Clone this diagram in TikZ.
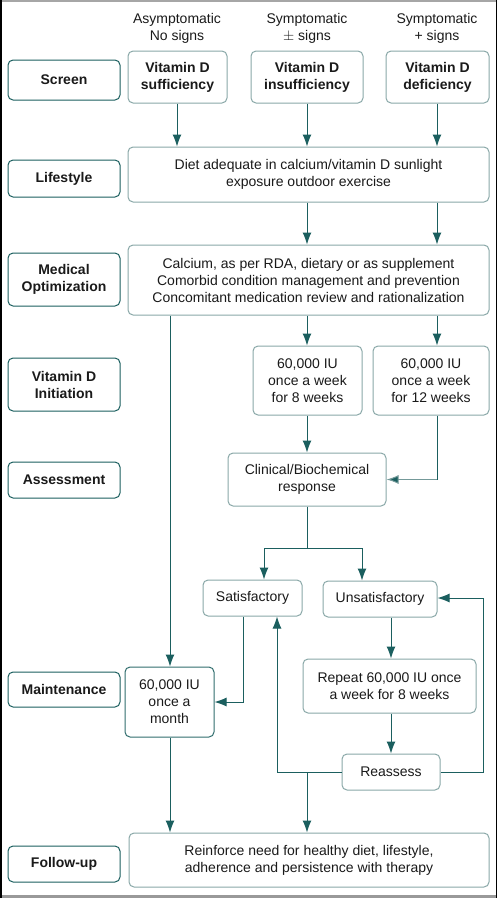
\documentclass[tikz,border=0pt]{standalone}
\usepackage{fontspec}
\setmainfont{Liberation Sans}
\usetikzlibrary{arrows.meta}
\definecolor{teal1}{HTML}{1B5F5F}
\definecolor{boxgray}{HTML}{8AA8A8}
\definecolor{txt}{HTML}{1A1A1A}
\begin{document}
\begin{tikzpicture}[x=1pt,y=-1pt,
  base/.style={rounded corners=5pt, line width=1pt, align=center, inner sep=0pt,
    text=txt, font=\fontsize{14}{17}\selectfont},
  lbl/.style={base, draw=teal1, minimum width=112pt, font=\fontsize{14}{17}\selectfont\bfseries},
  cbox/.style={base, draw=boxgray},
  bbox/.style={cbox, font=\fontsize{14}{17}\selectfont\bfseries},
  hdr/.style={align=center, inner sep=0pt, text=txt, font=\fontsize{14}{17}\selectfont},
  arr/.style={draw=teal1, line width=1pt, -{Latex[length=12pt,width=9pt]}},
  ln/.style={draw=teal1, line width=1pt}]
\useasboundingbox (0,0) rectangle (497,898);
\fill[white] (0,0) rectangle (497,898);
\draw[gray!70, line width=2pt] (0,1) -- (497,1);
\draw[gray!80, line width=3pt] (0,896.5) -- (497,896.5);
\draw[black, line width=1.5pt] (0.75,0) -- (0.75,898);
\draw[black, line width=1.5pt] (496.25,0) -- (496.25,898);

% headers
\node[hdr] (h1) at (177,28.5) {Asymptomatic\\No signs};
\node[hdr] (h2) at (307,28.5) {Symptomatic\\$\pm$ signs};
\node[hdr] (h3) at (437,28.5) {Symptomatic\\+ signs};

% left labels
\node[lbl, minimum height=40pt] (Lscr) at (64,80) {Screen};
\node[lbl, minimum height=37pt] (Llife) at (64,178.5) {Lifestyle};
\node[lbl, minimum height=53pt] (Lmed) at (64,279.5) {Medical\\Optimization};
\node[lbl, minimum height=53pt] (Linit) at (64,384.5) {Vitamin D\\Initiation};
\node[lbl, minimum height=36pt] (Lass) at (64,480) {Assessment};
\node[lbl, minimum height=35pt] (Lmnt) at (64,689.5) {Maintenance};
\node[lbl, minimum height=36pt] (Lfol) at (64,864) {Follow-up};

% content boxes
\node[bbox, minimum width=99pt, minimum height=52pt] (suff) at (177.5,77) {Vitamin D\\sufficiency};
\node[bbox, minimum width=112pt, minimum height=52pt] (insuff) at (307,77) {Vitamin D\\insufficiency};
\node[bbox, minimum width=103pt, minimum height=52pt] (def) at (437.5,77) {Vitamin D\\deficiency};
\node[cbox, minimum width=361pt, minimum height=55pt] (life) at (308.5,174.5) {Diet adequate in calcium/vitamin D sunlight\\exposure outdoor exercise};
\node[cbox, minimum width=361pt, minimum height=70pt] (med) at (308.5,280) {Calcium, as per RDA, dietary or as supplement\\Comorbid condition management and prevention\\Concomitant medication review and rationalization};
\node[cbox, minimum width=109pt, minimum height=69pt] (i8) at (307.5,380.5) {60,000 IU\\once a week\\for 8 weeks};
\node[cbox, minimum width=116pt, minimum height=69pt] (i12) at (431,380.5) {60,000 IU\\once a week\\for 12 weeks};
\node[cbox, minimum width=158pt, minimum height=53pt] (ass) at (307,479.5) {Clinical/Biochemical\\response};
\node[cbox, minimum width=99pt, minimum height=36pt] (sat) at (252.5,598) {Satisfactory};
\node[cbox, minimum width=114pt, minimum height=36pt] (unsat) at (380,599) {Unsatisfactory};
\node[cbox, minimum width=89pt, minimum height=70pt, draw=teal1!80!boxgray] (mnt) at (169.5,702) {60,000 IU\\once a\\month};
\node[cbox, minimum width=173pt, minimum height=54pt] (rep) at (389.5,686) {Repeat 60,000 IU once\\a week for 8 weeks};
\node[cbox, minimum width=98pt, minimum height=36pt] (reas) at (391,772) {Reassess};
\node[cbox, minimum width=360pt, minimum height=54pt] (fol) at (309,860) {Reinforce need for healthy diet, lifestyle,\\adherence and persistence with therapy};

% column coordinates
\coordinate (c1) at (177,0);
\coordinate (c2) at (307,0);
\coordinate (c3) at (437,0);
\coordinate (cm) at (170,0);
\coordinate (cs) at (243,0);
\coordinate (cr) at (391,0);
\coordinate (spl) at (264,548);
\coordinate (spr) at (362,548);
\coordinate (sp) at (307,548);
\coordinate (rl) at (277,772);
\coordinate (rj) at (307,772);
\coordinate (rr1) at (483,772);
\coordinate (rr2) at (483,598);

% connectors
\draw[arr] (suff.south -| c1) -- (life.north -| c1);
\draw[arr] (insuff.south -| c2) -- (life.north -| c2);
\draw[arr] (def.south -| c3) -- (life.north -| c3);
\draw[arr] (life.south -| c2) -- (med.north -| c2);
\draw[arr] (life.south -| c3) -- (med.north -| c3);
\draw[arr] (med.south -| cm) -- (mnt.north -| cm);
\draw[arr] (med.south -| c2) -- (i8.north -| c2);
\draw[arr] (med.south -| c3) -- (i12.north -| c3);
\draw[arr] (i8.south -| c2) -- (ass.north -| c2);
\draw[ln] (i12.south -| c3) -- (ass.east -| c3);
\draw[draw=boxgray!80!teal1, line width=1pt, -{Latex[length=12pt,width=9pt,fill=teal1]}] (ass.east -| c3) -- (ass.east);
\draw[ln] (ass.south) -- (sp);
\draw[arr] (sp) -- (spl) -- (sat.north -| spl);
\draw[arr] (sp) -- (spr) -- (unsat.north -| spr);
\draw[arr] (sat.south -| cs) |- (mnt.east);
\draw[arr] (unsat.south -| cr) -- (rep.north -| cr);
\draw[arr] (rep.south -| cr) -- (reas.north -| cr);
\draw[arr] (reas.west) -- (rl) -- (sat.south -| rl);
\draw[arr] (rj) -- (fol.north -| rj);
\draw[arr] (reas.east) -- (rr1) -- (rr2) -- (unsat.east |- rr2);
\draw[arr] (mnt.south -| cm) -- (fol.north -| cm);
\end{tikzpicture}
\end{document}
